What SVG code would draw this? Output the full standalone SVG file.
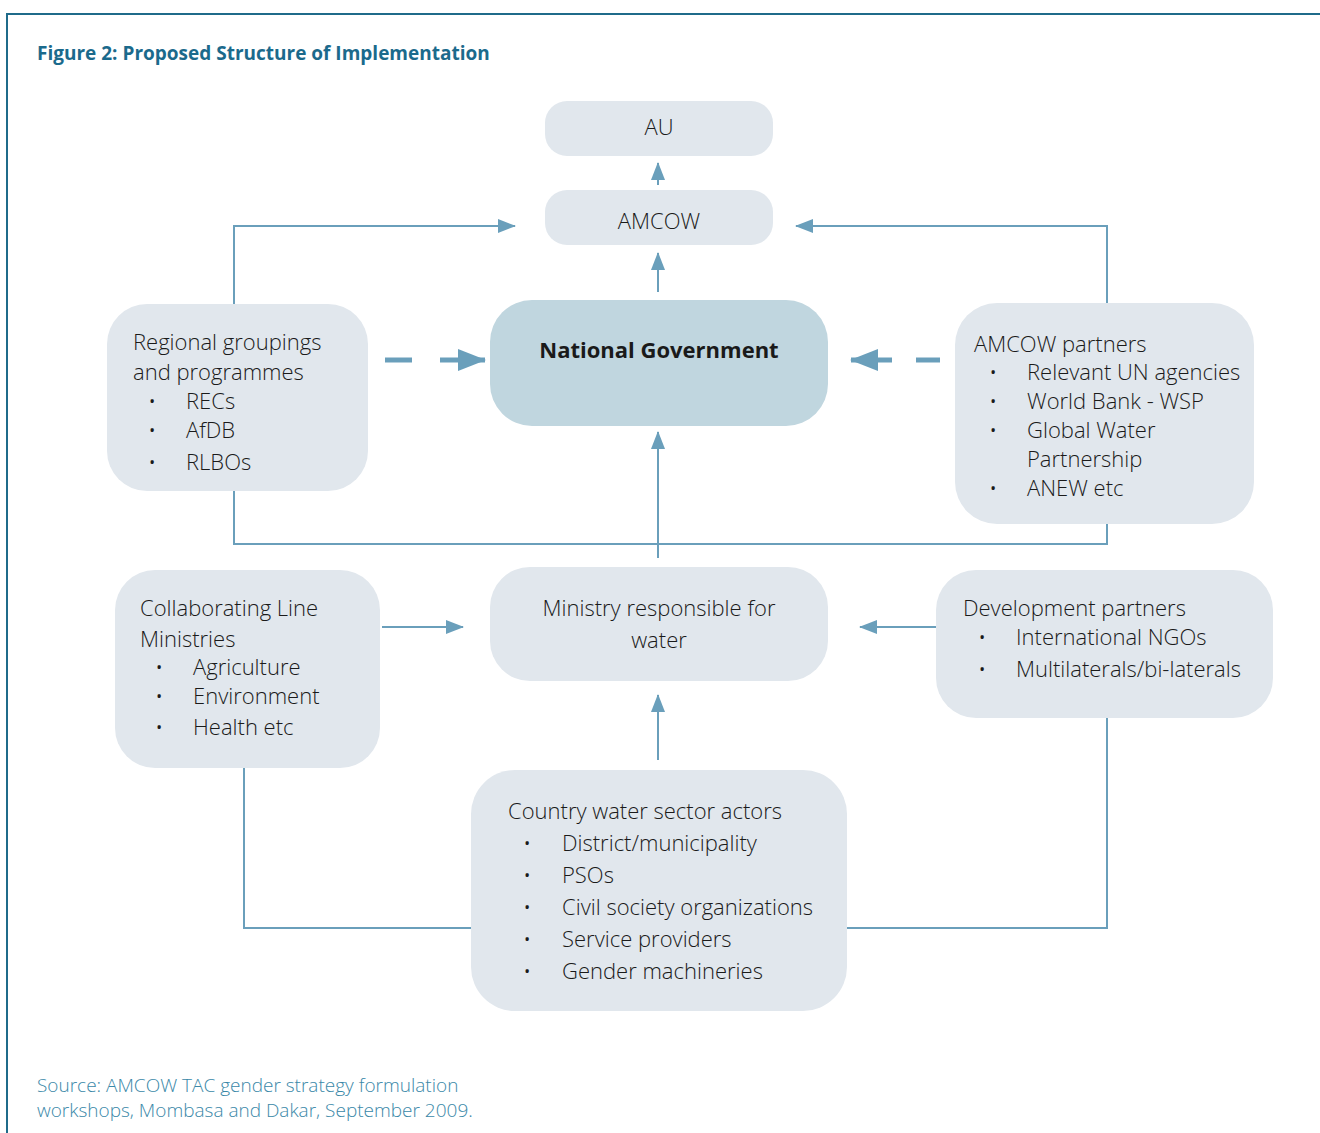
<svg xmlns="http://www.w3.org/2000/svg" width="1320" height="1133" viewBox="0 0 1320 1133">
<defs>
<marker id="ah" markerWidth="18" markerHeight="14" refX="17" refY="7" orient="auto" markerUnits="userSpaceOnUse">
<path d="M0,0 L18,7 L0,14 Z" fill="#6a9fbb"/>
</marker>
<marker id="ahb" markerWidth="28" markerHeight="22" refX="27" refY="11" orient="auto" markerUnits="userSpaceOnUse">
<path d="M0,0 L28,11 L0,22 Z" fill="#6a9fbb"/>
</marker>
<style>
.box{fill:#e1e7ed}
.ng{fill:#c0d6df}
.t{font-family:"Open Sans","Liberation Sans",sans-serif;font-weight:300;font-size:22px;fill:#1a1a1a}
.c{text-anchor:middle}
.b{font-weight:700}
.ln{fill:none;stroke:#6a9fbb;stroke-width:2}
.dash{fill:none;stroke:#6a9fbb;stroke-width:5}
.title{font-family:"Open Sans","Liberation Sans",sans-serif;font-weight:700;font-size:19px;fill:#1b6a8c}
.src{font-family:"Open Sans","Liberation Sans",sans-serif;font-weight:300;font-size:19px;fill:#3a88a8}
</style>
</defs>
<rect width="1320" height="1133" fill="#fff"/>
<path d="M7,1133 V14 H1320" fill="none" stroke="#1f6b8a" stroke-width="2"/>
<text class="title" x="37" y="60">Figure 2: Proposed Structure of Implementation</text>

<g id="connectors">
<line class="ln" x1="658" y1="185" x2="658" y2="163" marker-end="url(#ah)"/>
<line class="ln" x1="658" y1="292" x2="658" y2="253" marker-end="url(#ah)"/>
<polyline class="ln" points="234,304 234,226 515,226" marker-end="url(#ah)"/>
<polyline class="ln" points="1107,303 1107,226 796,226" marker-end="url(#ah)"/>
<line class="dash" x1="385" y1="360" x2="412" y2="360"/>
<line class="dash" x1="440" y1="360" x2="485" y2="360" marker-end="url(#ahb)"/>
<line class="dash" x1="940" y1="360" x2="916" y2="360"/>
<line class="dash" x1="892" y1="360" x2="851" y2="360" marker-end="url(#ahb)"/>
<polyline class="ln" points="234,491 234,544 1107,544 1107,524"/>
<line class="ln" x1="658" y1="558" x2="658" y2="432" marker-end="url(#ah)"/>
<line class="ln" x1="382" y1="627" x2="463" y2="627" marker-end="url(#ah)"/>
<line class="ln" x1="936" y1="627" x2="860" y2="627" marker-end="url(#ah)"/>
<line class="ln" x1="658" y1="760" x2="658" y2="695" marker-end="url(#ah)"/>
<polyline class="ln" points="244,768 244,928 471,928"/>
<polyline class="ln" points="847,928 1107,928 1107,718"/>
</g>

<g id="au">
<rect class="box" x="545" y="101" width="228" height="55" rx="22"/>
<text class="t c" x="659" y="135">AU</text>
</g>
<g id="amcow">
<rect class="box" x="545" y="190" width="228" height="55" rx="22"/>
<text class="t c" x="659" y="229">AMCOW</text>
</g>
<g id="national-government">
<rect class="ng" x="490" y="300" width="338" height="126" rx="42"/>
<text class="t c b" x="659" y="358">National Government</text>
</g>
<g id="regional">
<rect class="box" x="107" y="304" width="261" height="187" rx="40"/>
<text class="t" x="133" y="350">Regional groupings</text>
<text class="t" x="133" y="380">and programmes</text>
<text class="t" x="148" y="409">•</text><text class="t" x="186" y="409">RECs</text>
<text class="t" x="148" y="438">•</text><text class="t" x="186" y="438">AfDB</text>
<text class="t" x="148" y="470">•</text><text class="t" x="186" y="470">RLBOs</text>
</g>
<g id="amcow-partners">
<rect class="box" x="955" y="303" width="299" height="221" rx="42"/>
<text class="t" x="974" y="352">AMCOW partners</text>
<text class="t" x="989" y="380">•</text><text class="t" x="1027" y="380">Relevant UN agencies</text>
<text class="t" x="989" y="409">•</text><text class="t" x="1027" y="409">World Bank - WSP</text>
<text class="t" x="989" y="438">•</text><text class="t" x="1027" y="438">Global Water</text>
<text class="t" x="1027" y="467">Partnership</text>
<text class="t" x="989" y="496">•</text><text class="t" x="1027" y="496">ANEW etc</text>
</g>
<g id="collaborating">
<rect class="box" x="115" y="570" width="265" height="198" rx="40"/>
<text class="t" x="140" y="616">Collaborating Line</text>
<text class="t" x="140" y="647">Ministries</text>
<text class="t" x="155" y="675">•</text><text class="t" x="193" y="675">Agriculture</text>
<text class="t" x="155" y="704">•</text><text class="t" x="193" y="704">Environment</text>
<text class="t" x="155" y="735">•</text><text class="t" x="193" y="735">Health etc</text>
</g>
<g id="ministry">
<rect class="box" x="490" y="567" width="338" height="114" rx="40"/>
<text class="t c" x="659" y="616">Ministry responsible for</text>
<text class="t c" x="659" y="648">water</text>
</g>
<g id="development">
<rect class="box" x="936" y="570" width="337" height="148" rx="40"/>
<text class="t" x="963" y="616">Development partners</text>
<text class="t" x="978" y="645">•</text><text class="t" x="1016" y="645">International NGOs</text>
<text class="t" x="978" y="677">•</text><text class="t" x="1016" y="677">Multilaterals/bi-laterals</text>
</g>
<g id="country">
<rect class="box" x="471" y="770" width="376" height="241" rx="44"/>
<text class="t" x="508" y="819">Country water sector actors</text>
<text class="t" x="523" y="851">•</text><text class="t" x="562" y="851">District/municipality</text>
<text class="t" x="523" y="883">•</text><text class="t" x="562" y="883">PSOs</text>
<text class="t" x="523" y="915">•</text><text class="t" x="562" y="915">Civil society organizations</text>
<text class="t" x="523" y="947">•</text><text class="t" x="562" y="947">Service providers</text>
<text class="t" x="523" y="979">•</text><text class="t" x="562" y="979">Gender machineries</text>
</g>

<text class="src" x="37" y="1092">Source: AMCOW TAC gender strategy formulation</text>
<text class="src" x="37" y="1117">workshops, Mombasa and Dakar, September 2009.</text>
</svg>
